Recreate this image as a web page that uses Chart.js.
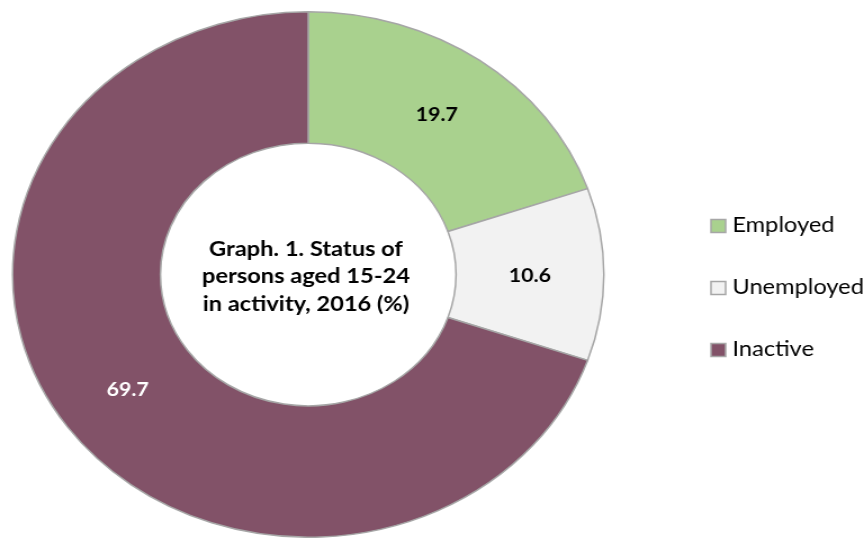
<!DOCTYPE html>
<html>
<head>
<meta charset="utf-8">
<script src="https://cdn.jsdelivr.net/npm/chart.js@4"></script>
<style>
  html, body { margin: 0; padding: 0; background: #ffffff; overflow: hidden; }
  /* the reference donut is stretched horizontally, so the whole drawing is too */
  .wrap { width: 770px; height: 538px; transform: scaleX(1.125); transform-origin: 0 0; }
</style>
</head>
<body>
<div class="wrap"><canvas id="activityChart" width="770" height="538"></canvas></div>
<script>
// Data
const categories = ['Employed', 'Unemployed', 'Inactive'];
const shares = [19.7, 10.6, 69.7];
const sliceColors = ['#a9d18e', '#f2f2f2', '#825268'];
const labelColors = ['#000000', '#000000', '#ffffff'];
const titleLines = ['Graph. 1. Status of', 'persons aged 15-24', 'in activity, 2016 (%)'];

const FONT = 'Lato, "Open Sans", sans-serif';

// Values on the slices + title in the hole
const sliceLabels = {
  id: 'sliceLabels',
  afterDatasetsDraw(chart) {
    const ctx = chart.ctx;
    const meta = chart.getDatasetMeta(0);
    ctx.save();
    ctx.textAlign = 'center';
    ctx.textBaseline = 'middle';
    ctx.font = 'bold 19px ' + FONT;
    meta.data.forEach((arc, i) => {
      const pos = arc.tooltipPosition();
      ctx.fillStyle = labelColors[i];
      ctx.fillText(shares[i].toFixed(1), pos.x, pos.y + 1);
    });

    // title in the centre
    const first = meta.data[0];
    ctx.fillStyle = '#000000';
    ctx.font = 'bold 21px ' + FONT;
    titleLines.forEach((line, i) => {
      ctx.fillText(line, first.x - 2, first.y + 2 + (i - 1) * 27.5);
    });
    ctx.restore();
  }
};

// Legend on the right
const sideLegend = {
  id: 'sideLegend',
  afterDraw(chart) {
    const ctx = chart.ctx;
    const x0 = 632;
    const midY = 288;
    ctx.save();
    ctx.font = '21px ' + FONT;
    ctx.textAlign = 'left';
    ctx.textBaseline = 'middle';
    categories.forEach((name, i) => {
      const y = midY + (i - 1) * 62;
      ctx.fillStyle = sliceColors[i];
      ctx.fillRect(x0, y - 6.5, 13, 13);
      ctx.strokeStyle = '#a6a6a6';
      ctx.lineWidth = 1.5;
      ctx.strokeRect(x0, y - 6.5, 13, 13);
      ctx.fillStyle = '#000000';
      ctx.fillText(name, x0 + 19, y - 1);
    });
    ctx.restore();
  }
};

function initActivityChart() {
  const ctx = document.getElementById('activityChart').getContext('2d');

  new Chart(ctx, {
    type: 'doughnut',
    data: {
      labels: categories,
      datasets: [{
        data: shares,
        backgroundColor: sliceColors,
        borderColor: '#a6a6a6',
        borderWidth: 1.5,
        hoverOffset: 0
      }]
    },
    options: {
      responsive: false,
      animation: false,
      cutout: '50%',
      layout: {
        padding: { left: 10, right: 232, top: 11, bottom: 0 }
      },
      plugins: {
        legend: { display: false },
        tooltip: { enabled: false }
      }
    },
    plugins: [sliceLabels, sideLegend]
  });
}

document.fonts.load('bold 21px Lato').then(initActivityChart, initActivityChart);
</script>
</body>
</html>
